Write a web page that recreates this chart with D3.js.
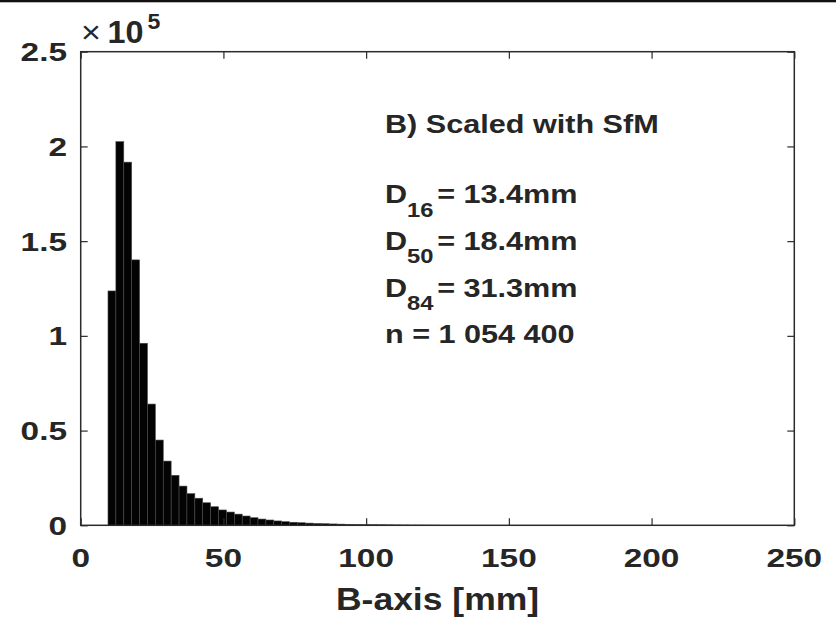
<!DOCTYPE html>
<html>
<head>
<meta charset="utf-8">
<script src="https://cdn.jsdelivr.net/npm/d3@7/dist/d3.min.js"></script>
<style>
  html, body { margin: 0; padding: 0; background: #fff; }
  svg { display: block; }
  text { font-family: "Liberation Sans", Arial, Helvetica, sans-serif; fill: #262626; }
</style>
</head>
<body>
<svg id="chart" width="836" height="617"></svg>
<script>
// Histogram of particle B-axis sizes (counts per bin)
const binStart = 9.56;      // mm, left edge of first bin
const binWidth = 2.766;     // mm
const counts = [
  123700, 202500, 191700, 140100, 96100, 64000, 45000, 33900, 26400, 20700,
  16700, 14300, 11900, 9800, 8100, 7000, 5900, 4900, 4000, 3300,
  2800, 2300, 1900, 1600, 1350, 1150, 980, 840, 720, 620,
  530, 450, 390, 330, 280, 240, 200, 170, 140, 120,
  100, 80
];
const xTicks = [0, 50, 100, 150, 200, 250];
const yTicks = [0, 0.5, 1, 1.5, 2, 2.5];   // in units of 1e5
const yExponent = 5;
const xLabel = "B-axis [mm]";
const panelTitle = "B) Scaled with SfM";
const stats = [
  { sub: "16", value: "13.4mm" },
  { sub: "50", value: "18.4mm" },
  { sub: "84", value: "31.3mm" }
];
const nLabel = "n = 1 054 400";

const svg = d3.select("#chart");
const W = 836, H = 617;
const plot = { left: 80.7, right: 794.3, top: 51.7, bottom: 525.3 };
const axisColor = "#2b2b2b";

// thin dark strip along the top edge
svg.append("rect").attr("x", 0).attr("y", 0).attr("width", W).attr("height", 2.3).attr("fill", "#111");

const x = d3.scaleLinear().domain([0, 250]).range([plot.left, plot.right]);
const y = d3.scaleLinear().domain([0, 2.5e5]).range([plot.bottom, plot.top]);

// bars
const bins = counts.map((c, i) => ({ x0: binStart + i * binWidth, x1: binStart + (i + 1) * binWidth, c }));
svg.append("g").selectAll("rect").data(bins).join("rect")
  .attr("x", d => x(d.x0))
  .attr("width", d => x(d.x1) - x(d.x0))
  .attr("y", d => y(d.c))
  .attr("height", d => y(0) - y(d.c))
  .attr("fill", "#030303")
  .attr("stroke", "#4a4a4a")
  .attr("stroke-width", 0.6);

// text helper with horizontal stretch
function label(parent, px, py, str, opt) {
  const g = parent.append("g").attr("transform", `translate(${px},${py}) scale(${opt.sx || 1},1)`);
  const t = g.append("text")
    .attr("x", 0).attr("y", 0)
    .attr("font-size", opt.size)
    .attr("font-weight", opt.weight || "bold")
    .attr("text-anchor", opt.anchor || "start")
    .text(str);
  return t;
}

// axes box with inward ticks
const tickLen = 7;
const axes = svg.append("g");
const xAxisB = d3.axisBottom(x).tickValues(xTicks).tickSize(-tickLen).tickFormat("");
const xAxisT = d3.axisTop(x).tickValues(xTicks).tickSize(-tickLen).tickFormat("");
const yAxisL = d3.axisLeft(y).tickValues(yTicks.map(v => v * 1e5)).tickSize(-tickLen).tickFormat("");
const yAxisR = d3.axisRight(y).tickValues(yTicks.map(v => v * 1e5)).tickSize(-tickLen).tickFormat("");
axes.append("g").attr("transform", `translate(0,${plot.bottom})`).call(xAxisB);
axes.append("g").attr("transform", `translate(0,${plot.top})`).call(xAxisT);
axes.append("g").attr("transform", `translate(${plot.left},0)`).call(yAxisL);
axes.append("g").attr("transform", `translate(${plot.right},0)`).call(yAxisR);
axes.selectAll(".domain").remove();
axes.selectAll(".tick line").attr("stroke", axisColor).attr("stroke-width", 1.2);
axes.append("rect")
  .attr("x", plot.left).attr("y", plot.top)
  .attr("width", plot.right - plot.left).attr("height", plot.bottom - plot.top)
  .attr("fill", "none").attr("stroke", axisColor).attr("stroke-width", 1.5);

// tick labels
const tickSize = 26.5, tickSx = 1.26;
xTicks.forEach(v => label(svg, x(v), 566.7, d3.format("")(v), { size: tickSize, sx: tickSx, anchor: "middle" }));
yTicks.forEach(v => label(svg, 67, y(v * 1e5) + 9.5, String(v), { size: tickSize, sx: tickSx, anchor: "end" }));

// exponent marker
label(svg, 81, 42.7, "\u00d7", { size: 31, weight: "normal", sx: 1.1 });
label(svg, 107.5, 42.7, "10", { size: 31.7, sx: 1.02 });
label(svg, 147.5, 29, String(yExponent), { size: 22, sx: 1.05 });

// x axis title
label(svg, 437.5, 609.7, xLabel, { size: 31.7, sx: 1.12, anchor: "middle" });

// annotation block
const annX = 385, annSize = 25.5, annSx = 1.2, subSize = 19.8, subShift = 13.4;
label(svg, annX, 133.3, panelTitle, { size: annSize, sx: annSx });
const statBase = [203.3, 250, 296.7];
stats.forEach((s, i) => {
  const t = label(svg, annX, statBase[i], "D", { size: annSize, sx: annSx });
  t.append("tspan").attr("font-size", subSize).attr("dy", subShift).text(s.sub);
  t.append("tspan").attr("font-size", annSize).attr("dy", -subShift).attr("dx", 3).text("= " + s.value);
});
label(svg, annX, 342.7, nLabel, { size: annSize, sx: annSx });
</script>
</body>
</html>
